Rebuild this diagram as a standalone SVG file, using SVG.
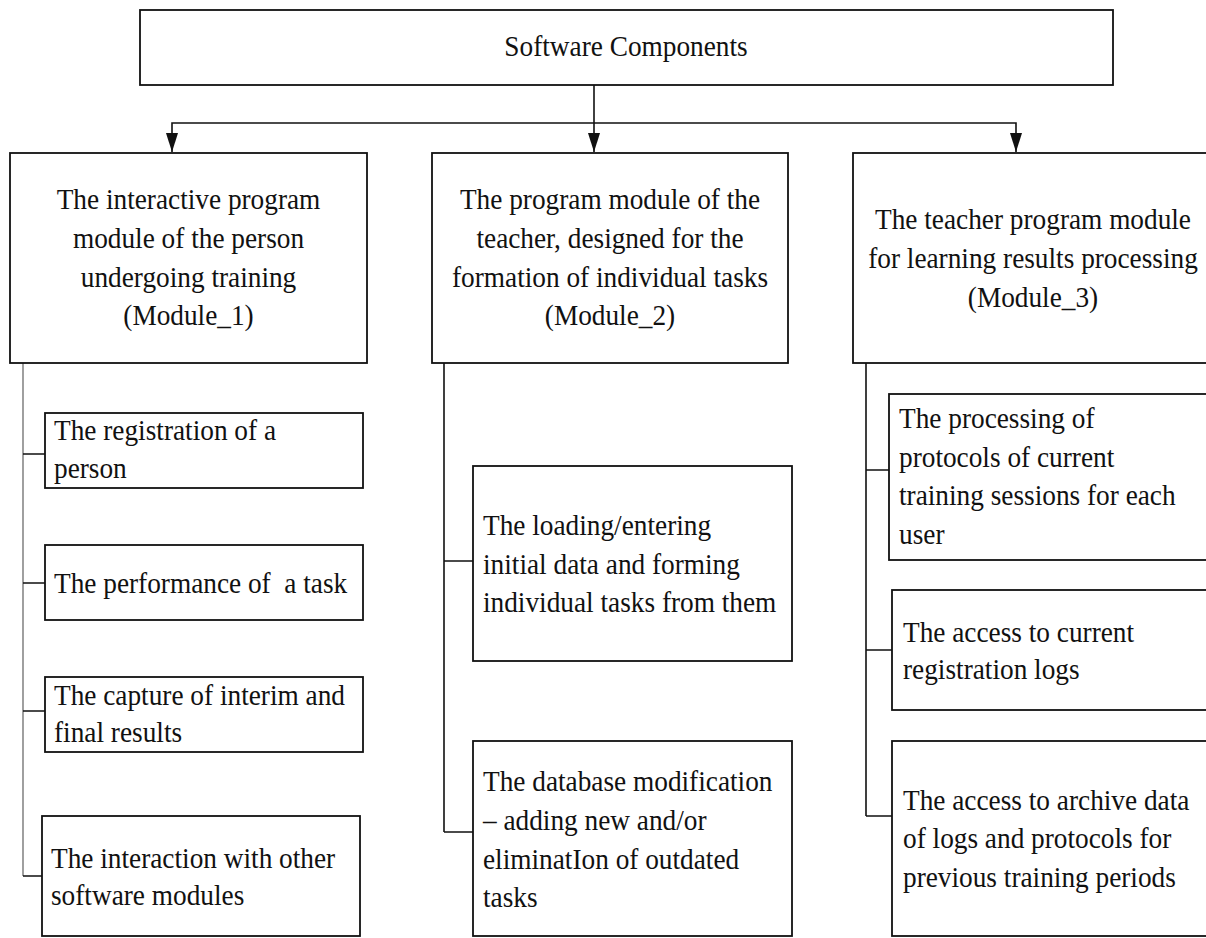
<svg xmlns="http://www.w3.org/2000/svg" width="1206" height="938" viewBox="0 0 1206 938">
<style>
.box{fill:#fff;stroke:#111;stroke-width:1.8}
.t{font-family:"Liberation Serif","Times New Roman",serif;font-size:30px;fill:#111;white-space:pre}
.c{text-anchor:middle}
.ln{fill:none;stroke:#111;stroke-width:1.6}
.gr{fill:none;stroke:#777;stroke-width:1.4}
</style>
<defs>
<marker id="arr" markerUnits="userSpaceOnUse" markerWidth="12" markerHeight="19" refX="6" refY="19" orient="0" viewBox="0 0 12 19">
<path d="M0,0 L12,0 L6,19 z" fill="#111"/>
</marker>
</defs>
<rect width="1206" height="938" fill="#fff"/>

<g id="connectors">
<path class="ln" d="M594,85 V152" marker-end="url(#arr)"/>
<path class="ln" d="M594,123 H172 V152" marker-end="url(#arr)"/>
<path class="ln" d="M594,123 H1016 V152" marker-end="url(#arr)"/>
<path class="gr" d="M23,363 V876"/>
<path class="ln" d="M23,454 H45 M23,583 H45 M23,711 H45 M23,876 H42"/>
<path class="ln" d="M444,363 V832 M444,561 H473 M444,832 H473"/>
<path class="ln" d="M866,363 V816 M866,470 H889 M866,650 H892 M866,816 H892"/>
</g>

<g id="root">
<rect class="box" x="140" y="10" width="973" height="75"/>
<text class="t c" transform="matrix(0.91 0 0 1 626 56)">Software Components</text>
</g>

<g id="module1">
<rect class="box" x="10" y="153" width="357" height="210"/>
<text class="t c" transform="matrix(0.91 0 0 1 188.5 209)">The interactive program</text>
<text class="t c" transform="matrix(0.91 0 0 1 188.5 248)">module of the person</text>
<text class="t c" transform="matrix(0.91 0 0 1 188.5 287)">undergoing training</text>
<text class="t c" transform="matrix(0.91 0 0 1 188.5 325)">(Module_1)</text>
</g>

<g id="module2">
<rect class="box" x="432" y="153" width="356" height="210"/>
<text class="t c" transform="matrix(0.91 0 0 1 610 209)">The program module of the</text>
<text class="t c" transform="matrix(0.91 0 0 1 610 248)">teacher, designed for the</text>
<text class="t c" transform="matrix(0.91 0 0 1 610 287)">formation of individual tasks</text>
<text class="t c" transform="matrix(0.91 0 0 1 610 325)">(Module_2)</text>
</g>

<g id="module3">
<rect class="box" x="853" y="153" width="362" height="210"/>
<text class="t c" transform="matrix(0.91 0 0 1 1033 229)">The teacher program module</text>
<text class="t c" transform="matrix(0.91 0 0 1 1033 268)">for learning results processing</text>
<text class="t c" transform="matrix(0.91 0 0 1 1033 307)">(Module_3)</text>
</g>

<g id="m1-registration">
<rect class="box" x="45" y="413" width="318" height="75"/>
<text class="t" transform="matrix(0.91 0 0 1 54 440)">The registration of a</text>
<text class="t" transform="matrix(0.91 0 0 1 54 478)">person</text>
</g>

<g id="m1-performance">
<rect class="box" x="45" y="545" width="318" height="75"/>
<text class="t" transform="matrix(0.91 0 0 1 54 593)">The performance of  a task</text>
</g>

<g id="m1-capture">
<rect class="box" x="45" y="677" width="318" height="75"/>
<text class="t" transform="matrix(0.91 0 0 1 54 705)">The capture of interim and</text>
<text class="t" transform="matrix(0.91 0 0 1 54 742)">final results</text>
</g>

<g id="m1-interaction">
<rect class="box" x="42" y="816" width="318" height="120"/>
<text class="t" transform="matrix(0.91 0 0 1 51 868)">The interaction with other</text>
<text class="t" transform="matrix(0.91 0 0 1 51 905)">software modules</text>
</g>

<g id="m2-loading">
<rect class="box" x="473" y="466" width="319" height="195"/>
<text class="t" transform="matrix(0.91 0 0 1 483 535)">The loading/entering</text>
<text class="t" transform="matrix(0.91 0 0 1 483 574)">initial data and forming</text>
<text class="t" transform="matrix(0.91 0 0 1 483 612)">individual tasks from them</text>
</g>

<g id="m2-database">
<rect class="box" x="473" y="741" width="319" height="195"/>
<text class="t" transform="matrix(0.91 0 0 1 483 791)">The database modification</text>
<text class="t" transform="matrix(0.91 0 0 1 483 830)">– adding new and/or</text>
<text class="t" transform="matrix(0.91 0 0 1 483 869)">eliminatIon of outdated</text>
<text class="t" transform="matrix(0.91 0 0 1 483 907)">tasks</text>
</g>

<g id="m3-processing">
<rect class="box" x="889" y="394" width="330" height="166"/>
<text class="t" transform="matrix(0.91 0 0 1 899 428)">The processing of</text>
<text class="t" transform="matrix(0.91 0 0 1 899 467)">protocols of current</text>
<text class="t" transform="matrix(0.91 0 0 1 899 505)">training sessions for each</text>
<text class="t" transform="matrix(0.91 0 0 1 899 544)">user</text>
</g>

<g id="m3-current-logs">
<rect class="box" x="892" y="590" width="330" height="120"/>
<text class="t" transform="matrix(0.91 0 0 1 903 642)">The access to current</text>
<text class="t" transform="matrix(0.91 0 0 1 903 679)">registration logs</text>
</g>

<g id="m3-archive">
<rect class="box" x="892" y="741" width="330" height="195"/>
<text class="t" transform="matrix(0.91 0 0 1 903 810)">The access to archive data</text>
<text class="t" transform="matrix(0.91 0 0 1 903 848)">of logs and protocols for</text>
<text class="t" transform="matrix(0.91 0 0 1 903 887)">previous training periods</text>
</g>
</svg>
